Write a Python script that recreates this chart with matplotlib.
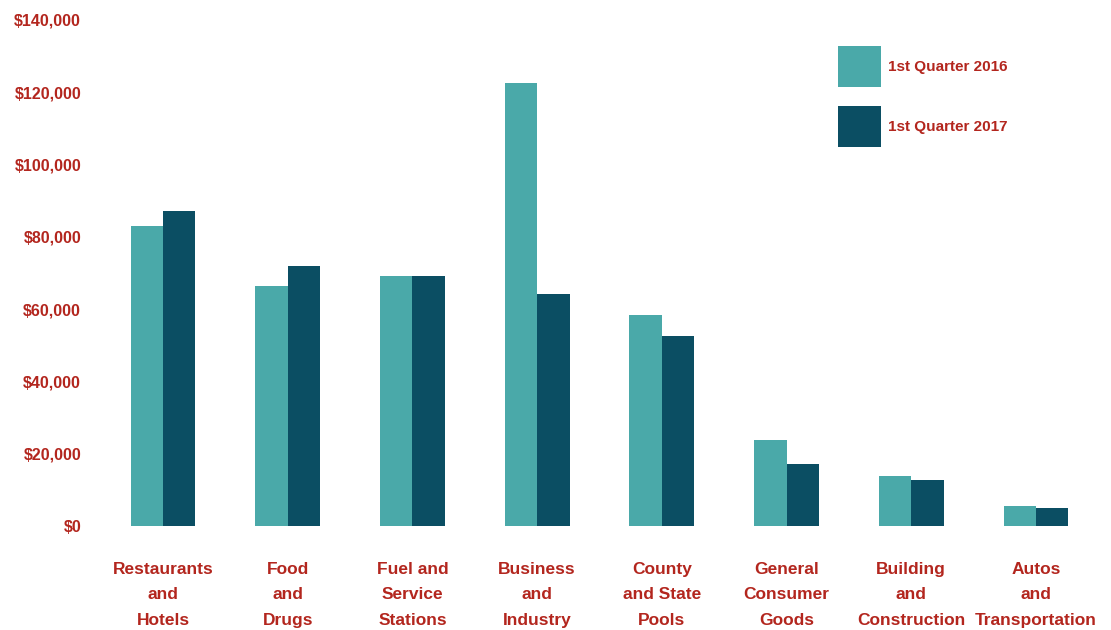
import numpy as np
import matplotlib
matplotlib.use("Agg")
import matplotlib.pyplot as plt
from matplotlib.patches import Patch
from matplotlib.ticker import FuncFormatter

plt.rcParams['font.family'] = ['Liberation Sans', 'DejaVu Sans']

# data
categories = ["Restaurants\nand\nHotels", "Food\nand\nDrugs", "Fuel and\nService\nStations",
              "Business\nand\nIndustry", "County\nand State\nPools", "General\nConsumer\nGoods",
              "Building\nand\nConstruction", "Autos\nand\nTransportation"]
q1_2016 = [83000, 66400, 69200, 122600, 58400, 23800, 13800, 5500]
q1_2017 = [87200, 71900, 69200, 64200, 52600, 17200, 12700, 5000]
series_labels = ["1st Quarter 2016", "1st Quarter 2017"]

light_teal = "#4aa9a9"
dark_teal = "#0b4e63"
red = "#b3261e"

fig = plt.figure(figsize=(11.11, 6.3), dpi=100)
ax = fig.add_axes([100.6 / 1111, 104 / 630, 997.7 / 1111, 506 / 630])

x = np.arange(len(categories))
w = 0.26
ax.bar(x - w / 2, q1_2016, width=w, color=light_teal)
ax.bar(x + w / 2, q1_2017, width=w, color=dark_teal)

ax.set_xlim(-0.5, len(categories) - 0.5)
ax.set_ylim(0, 140000)
ax.set_yticks(np.arange(0, 140001, 20000))
ax.yaxis.set_major_formatter(FuncFormatter(lambda v, p: f"${v:,.0f}"))
ax.set_xticks(x)
ax.set_xticklabels(categories, linespacing=1.85)

for s in ax.spines.values():
    s.set_visible(False)
ax.tick_params(axis='y', length=0, pad=14, labelsize=11.5, labelcolor=red)
ax.tick_params(axis='x', length=0, pad=26, labelsize=12.5, labelcolor=red)
for t in ax.get_xticklabels() + ax.get_yticklabels():
    t.set_fontweight('bold')

handles = [Patch(facecolor=light_teal, edgecolor='none'),
           Patch(facecolor=dark_teal, edgecolor='none')]
leg = fig.legend(handles, series_labels, loc='upper left',
                 bbox_to_anchor=(838 / 1111, 1 - 46 / 630), frameon=False,
                 borderpad=0, borderaxespad=0, handlelength=2.8, handleheight=3.8,
                 labelspacing=1.2, handletextpad=0.45,
                 prop={'size': 11, 'weight': 'bold'})
for t in leg.get_texts():
    t.set_color(red)

fig.savefig("out.png", dpi=100, facecolor='white')
